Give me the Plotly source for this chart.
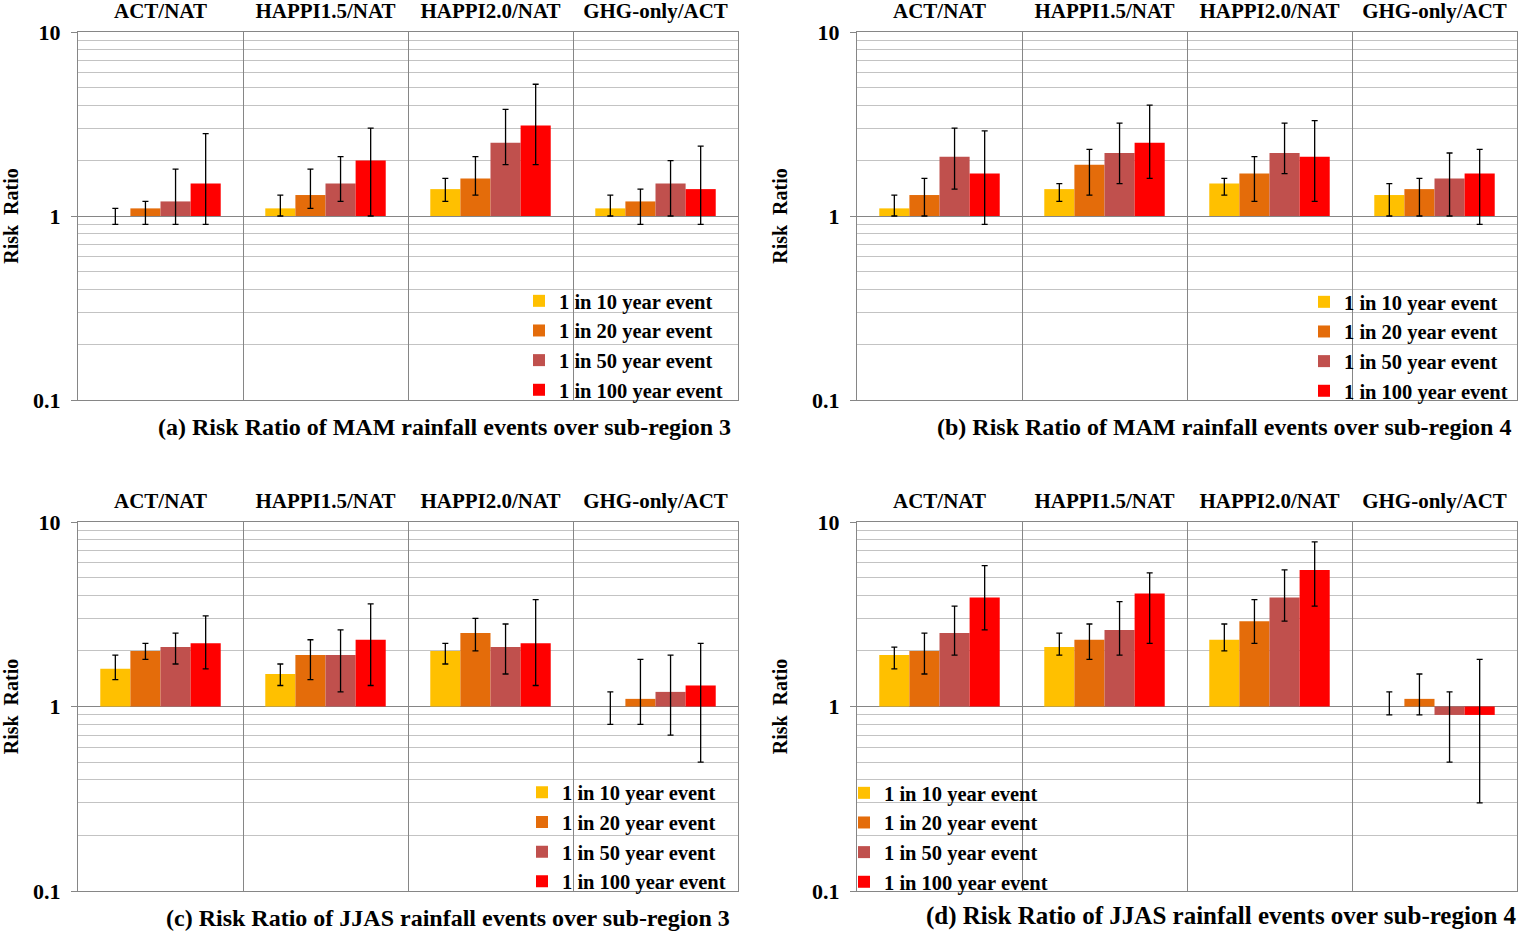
import plotly.graph_objects as go

categories = ["ACT/NAT", "HAPPI1.5/NAT", "HAPPI2.0/NAT", "GHG-only/ACT"]
events = ["1 in 10 year event", "1 in 20 year event", "1 in 50 year event", "1 in 100 year event"]
colors = ["#FFC000", "#E46C0A", "#C0504D", "#FF0000"]

# Panel (a): MAM, sub-region 3  (rows = events, columns = categories)
a_val = [[1.0, 1.1, 1.4, 1.1], [1.1, 1.3, 1.6, 1.2], [1.2, 1.5, 2.5, 1.5], [1.5, 2.0, 3.1, 1.4]]
a_hi = [[1.1, 1.3, 1.6, 1.3], [1.2, 1.8, 2.1, 1.4], [1.8, 2.1, 3.8, 2.0], [2.8, 3.0, 5.2, 2.4]]
a_lo = [[0.9, 1.0, 1.2, 1.0], [0.9, 1.1, 1.3, 0.9], [0.9, 1.2, 1.9, 1.0], [0.9, 1.0, 1.9, 0.9]]

# Panel (b): MAM, sub-region 4
b_val = [[1.1, 1.4, 1.5, 1.3], [1.3, 1.9, 1.7, 1.4], [2.1, 2.2, 2.2, 1.6], [1.7, 2.5, 2.1, 1.7]]
b_hi = [[1.3, 1.5, 1.6, 1.5], [1.6, 2.3, 2.1, 1.6], [3.0, 3.2, 3.2, 2.2], [2.9, 4.0, 3.3, 2.3]]
b_lo = [[1.0, 1.2, 1.3, 1.0], [1.0, 1.3, 1.2, 1.0], [1.4, 1.5, 1.7, 1.0], [0.9, 1.6, 1.2, 0.9]]

# Panel (c): JJAS, sub-region 3
c_val = [[1.6, 1.5, 2.0, 1.0], [2.0, 1.9, 2.5, 1.1], [2.1, 1.9, 2.1, 1.2], [2.2, 2.3, 2.2, 1.3]]
c_hi = [[1.9, 1.7, 2.2, 1.2], [2.2, 2.3, 3.0, 1.8], [2.5, 2.6, 2.8, 1.9], [3.1, 3.6, 3.8, 2.2]]
c_lo = [[1.4, 1.3, 1.7, 0.8], [1.8, 1.4, 2.0, 0.8], [1.7, 1.2, 1.5, 0.7], [1.6, 1.3, 1.3, 0.5]]

# Panel (d): JJAS, sub-region 4
d_val = [[1.9, 2.1, 2.3, 1.0], [2.0, 2.3, 2.9, 1.1], [2.5, 2.6, 3.9, 0.9], [3.9, 4.1, 5.5, 0.9]]
d_hi = [[2.1, 2.5, 2.8, 1.2], [2.5, 2.8, 3.8, 1.5], [3.5, 3.7, 5.5, 1.2], [5.8, 5.3, 7.8, 1.8]]
d_lo = [[1.6, 1.9, 2.0, 0.9], [1.5, 1.8, 2.2, 0.9], [1.9, 1.9, 2.9, 0.5], [2.6, 2.2, 3.5, 0.3]]

captions = [
    "(a) Risk Ratio of MAM rainfall events over sub-region 3",
    "(b) Risk Ratio of MAM rainfall events over sub-region 4",
    "(c) Risk Ratio of JJAS rainfall events over sub-region 3",
    "(d) Risk Ratio of JJAS rainfall events over sub-region 4",
]

W, H = 1520, 931
FONT = "Liberation Serif"
DARK = "#868686"
LIGHT = "#c3c3c3"

# pixel boxes of the four plot areas: (left, right, top, bottom)
boxes = [(78, 738, 32, 400), (857, 1517, 32, 400), (78, 738, 522, 891), (857, 1517, 522, 891)]
legend_pos = [(519, 345.5), (1304, 346.5), (522, 837), (844, 837.5)]
caption_pos = [(733, 427), (1513, 427), (732, 918), (1519, 916)]
caption_size = [24, 24, 24, 25]

panels = [(a_val, a_hi, a_lo), (b_val, b_hi, b_lo), (c_val, c_hi, c_lo), (d_val, d_hi, d_lo)]

minor_vals = [0.2, 0.3, 0.4, 0.5, 0.6, 0.7, 0.8, 0.9, 2, 3, 4, 5, 6, 7, 8, 9]

fig = go.Figure()
layout = {}
annotations = []

for p, (vals, his, los) in enumerate(panels):
    sfx = "" if p == 0 else str(p + 1)
    lg = "legend" + sfx
    for k in range(4):
        v = vals[k]
        fig.add_trace(go.Bar(
            x=categories,
            y=[vi - 1 for vi in v],
            base=1,
            name=events[k],
            marker=dict(color=colors[k], line=dict(width=0)),
            error_y=dict(type="data", symmetric=False,
                         array=[h - vi for h, vi in zip(his[k], v)],
                         arrayminus=[vi - l for vi, l in zip(v, los[k])],
                         color="black", thickness=1.3, width=3),
            xaxis="x" + sfx, yaxis="y" + sfx, legend=lg,
            hovertemplate="%{x}<br>" + events[k] + "<extra></extra>",
        ))
    l, r, t, b = boxes[p]
    layout["xaxis" + sfx] = dict(
        domain=[l / W, r / W], anchor="y" + sfx, type="category",
        side="top", tickson="boundaries", ticks="", ticklabelstandoff=5,
        showgrid=True, gridcolor=DARK, gridwidth=1,
        showline=True, mirror=True, linecolor=DARK, linewidth=1,
        tickfont=dict(family=FONT, size=21, color="black", weight="bold"),
        automargin=False, fixedrange=True,
    )
    layout["yaxis" + sfx] = dict(
        domain=[1 - b / H, 1 - t / H], anchor="x" + sfx, type="log",
        range=[-1, 1], tickvals=[0.1, 1, 10], ticktext=["0.1", "1", "10"],
        ticks="outside", ticklen=6, tickcolor=DARK, tickwidth=1,
        ticklabelstandoff=6,
        showgrid=True, gridcolor=DARK, gridwidth=1,
        showline=True, mirror=True, linecolor=DARK, linewidth=1,
        minor=dict(tickvals=minor_vals, showgrid=True, gridcolor=LIGHT, gridwidth=1, ticks=""),
        tickfont=dict(family=FONT, size=22, color="black", weight="bold"),
        title=dict(text="Risk\u00a0 Ratio", standoff=19,
                   font=dict(family=FONT, size=20, color="black", weight="bold")),
        zeroline=False, automargin=False, fixedrange=True,
    )
    lx, ly = legend_pos[p]
    layout[lg] = dict(
        x=lx / W, y=1 - ly / H, xanchor="left", yanchor="middle",
        xref="paper", yref="paper",
        bgcolor="rgba(0,0,0,0)", borderwidth=0,
        font=dict(family=FONT, size=20.5, color="black", weight="bold"),
        traceorder="normal", tracegroupgap=0,
    )
    cx, cy = caption_pos[p]
    annotations.append(dict(
        text=captions[p], x=cx / W, y=1 - cy / H, xref="paper", yref="paper",
        xanchor="right", yanchor="middle", showarrow=False,
        font=dict(family=FONT, size=caption_size[p], color="black", weight="bold"),
    ))

fig.update_layout(
    width=W, height=H,
    margin=dict(l=0, r=0, t=0, b=0, autoexpand=False),
    paper_bgcolor="white", plot_bgcolor="white",
    barmode="group", bargap=0.27, bargroupgap=0,
    showlegend=True,
    annotations=annotations,
    **layout,
)

fig.write_html(
    "out.html",
    config={"displayModeBar": False},
    post_script="document.body.style.margin='0px';document.body.style.padding='0px';"
                "document.body.style.overflow='hidden';",
)
